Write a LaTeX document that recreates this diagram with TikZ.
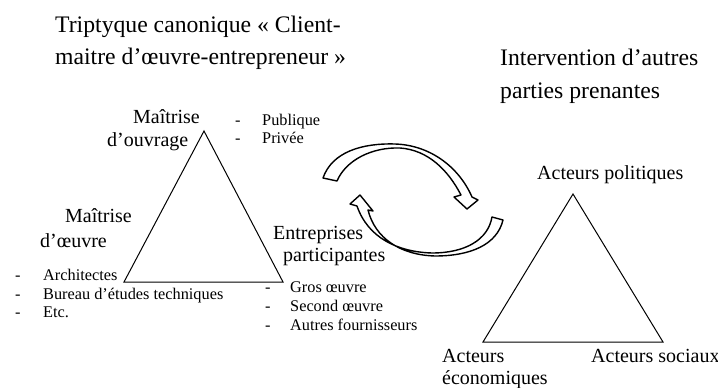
\documentclass[tikz,border=0pt]{standalone}
\usepackage{fontspec}
\setmainfont{Liberation Serif}
\begin{document}
\begin{tikzpicture}[x=1pt,y=-1pt,
  ttl/.style={inner sep=0pt, anchor=base west, font=\fontsize{23.7}{28}\selectfont},
  txt/.style={inner sep=0pt, anchor=base west, font=\fontsize{20}{24}\selectfont},
  lst/.style={inner sep=0pt, anchor=base west, font=\fontsize{16.3}{19}\selectfont},
  tri/.style={draw=black, line width=1pt, line join=miter},
  blockarrow/.style={draw=black, fill=white, line width=1.4pt, line join=round}]
\useasboundingbox (0,0) rectangle (718,388);

% titles
\node[ttl] (t1) at (55,32) {Triptyque canonique « Client-};
\node[ttl] (t2) at (55,64) {maitre d’œuvre-entrepreneur »};
\node[ttl] (r1) at (500,65) {Intervention d’autres};
\node[ttl] (r2) at (500,98) {parties prenantes};

% left triangle
\coordinate (A1) at (204,131);
\coordinate (B1) at (124,282);
\coordinate (C1) at (283,282);
\draw[tri] (A1) -- (B1) -- (C1) -- cycle;

% right triangle
\coordinate (A2) at (573,194);
\coordinate (B2) at (483,342);
\coordinate (C2) at (663,342);
\draw[tri] (A2) -- (B2) -- (C2) -- cycle;

% labels left
\node[txt] (mo1) at (133,123) {Maîtrise};
\node[txt] (mo2) at (107,146) {d’ouvrage};
\node[txt] (me1) at (65,222) {Maîtrise};
\node[txt] (me2) at (40,247) {d’œuvre};
\node[txt] (ep1) at (273,239) {Entreprises};
\node[txt] (ep2) at (283,261) {participantes};

% lists
\node[lst] (dp1) at (235,125) {-};
\node[lst] (p1) at (262,125) {Publique};
\node[lst] (dp2) at (235,143) {-};
\node[lst] (p2) at (262,143) {Privée};

\node[lst] (da1) at (15,280) {-};
\node[lst] (a1) at (43,280) {Architectes};
\node[lst] (da2) at (15,299) {-};
\node[lst] (a2) at (43,299) {Bureau d’études techniques};
\node[lst] (da3) at (15,317) {-};
\node[lst] (a3) at (43,317) {Etc.};

\node[lst] (dg1) at (265,292) {-};
\node[lst] (g1) at (290,292) {Gros œuvre};
\node[lst] (dg2) at (265,311) {-};
\node[lst] (g2) at (290,311) {Second œuvre};
\node[lst] (dg3) at (265,330) {-};
\node[lst] (g3) at (290,330) {Autres fournisseurs};

% labels right
\node[txt] (ap) at (537,179) {Acteurs politiques};
\node[txt] (ae1) at (442,362) {Acteurs};
\node[txt] (ae2) at (442,384) {économiques};
\node[txt] (as) at (591,362) {Acteurs sociaux};

% curved block arrows
\draw[blockarrow] (323,178) .. controls (332,152) and (362,143) .. (395,144)
  .. controls (428,145) and (458,165) .. (472,197)
  -- (478,200) -- (467,209) -- (454,197) -- (461,195)
  .. controls (448,170) and (428,150) .. (400,148)
  .. controls (372,147) and (346,160) .. (337,181) -- cycle;
\draw[blockarrow] (503,220) .. controls (497,245) and (470,256) .. (435,256)
  .. controls (400,255) and (375,238) .. (368,210)
  -- (373,211) -- (360,195) -- (350,204) -- (357,206)
  .. controls (368,238) and (398,252) .. (432,253)
  .. controls (465,253) and (488,240) .. (492,217) -- cycle;
\end{tikzpicture}
\end{document}
